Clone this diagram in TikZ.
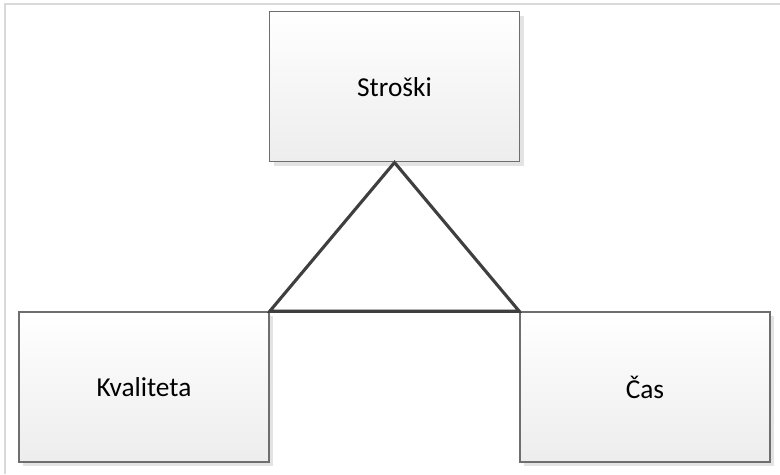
\documentclass[tikz,border=0pt]{standalone}
\usepackage{fontspec}
\setmainfont{Carlito}
\usetikzlibrary{shadows}
\definecolor{framegray}{HTML}{D9D9D9}
\definecolor{boxline}{HTML}{6E6E6E}
\definecolor{boxbottom}{HTML}{EDEDED}
\definecolor{shadowgray}{HTML}{E3E3E3}
\definecolor{triline}{HTML}{3F3F3F}
\tikzset{
  box/.style={rectangle, draw=boxline, line width=1.1pt,
    top color=white, bottom color=boxbottom,
    minimum width=187.5pt, minimum height=112.5pt, inner sep=0pt,
    font=\fontsize{20.5}{24}\selectfont,
    drop shadow={shadow xshift=3pt, shadow yshift=-3pt, fill=shadowgray, opacity=1}},
  triedge/.style={draw=triline, line width=2.3pt, line join=miter},
  trishadow/.style={draw=shadowgray, line width=2.3pt, line join=miter},
  frameline/.style={draw=framegray, line width=1.9pt}
}
\begin{document}
\begin{tikzpicture}[x=0.75pt, y=-0.75pt]
  \useasboundingbox[fill=white] (0,0) rectangle (780,474);
  % outer frame (top and left edges)
  \coordinate (ftl) at (5.2,3.8);
  \coordinate (ftr) at (780,3.8);
  \coordinate (fbl) at (5.2,474);
  \draw[frameline] (fbl) -- (ftl) -- (ftr);
  % the three boxes
  \node[box] (s) at (394.5,86.75) {Stroški};
  \node[box] (k) at (144,387) {Kvaliteta};
  \node[box] (c) at (645,387) {Čas};
  % triangle with its soft shadow
  \begin{scope}[shift={(3,3)}]
    \draw[trishadow] (s.south) -- (k.north east) -- (c.north west) -- cycle;
  \end{scope}
  \draw[triedge] (s.south) -- (k.north east) -- (c.north west) -- cycle;
\end{tikzpicture}
\end{document}
